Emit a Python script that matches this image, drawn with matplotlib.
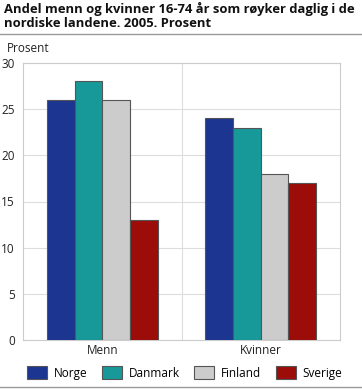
import matplotlib
matplotlib.use("Agg")
import matplotlib.pyplot as plt
import numpy as np
from matplotlib.patches import Patch
from matplotlib.lines import Line2D

categories = ["Menn", "Kvinner"]
countries = ["Norge", "Danmark", "Finland", "Sverige"]
values = {
    "Norge": [26, 24],
    "Danmark": [28, 23],
    "Finland": [26, 18],
    "Sverige": [13, 17],
}
colors = ["#1b3591", "#17999a", "#cccccc", "#9c0d0a"]
yticks = [0, 5, 10, 15, 20, 25, 30]

plt.rcParams['font.family'] = ['Open Sans', 'DejaVu Sans']

fig = plt.figure(figsize=(3.62, 3.89), dpi=100)
W, H = 362, 389
ax = fig.add_axes([23 / W, 1 - 340 / H, (340 - 23) / W, (340 - 63) / H])

x = np.arange(len(categories))
bw = 0.175
for i, (c, col) in enumerate(zip(countries, colors)):
    ax.bar(x + (i - 1.5) * bw, values[c], width=bw, color=col,
           edgecolor="#555555", linewidth=0.8, zorder=3)

ax.set_xlim(-0.5, 1.5)
ax.set_ylim(0, 30)
ax.set_yticks(yticks)
ax.set_yticklabels([str(t) for t in yticks], fontsize=8.5, color="#222222")
ax.set_xticks(x)
ax.set_xticklabels(categories, fontsize=8.5, color="#222222")
ax.tick_params(length=0, pad=3)
ax.tick_params(axis='y', pad=6)
ax.grid(axis='y', color="#dddddd", linewidth=0.8, zorder=0)
ax.axvline(0.5, color="#dddddd", linewidth=0.8, zorder=0)
for s in ax.spines.values():
    s.set_color("#cccccc")
    s.set_linewidth(0.8)

fig.text(7 / W, 1 - 48 / H, "Prosent", fontsize=8.5, color="#222222", va="center", ha="left")

fig.text(4 / W, 1 - 2 / H, "Andel menn og kvinner 16-74 år som røyker daglig i de\nnordiske landene. 2005. Prosent",
         fontsize=9.4, fontweight="bold", va="top", ha="left", color="#111111", linespacing=1.1)

fig.add_artist(Line2D([0, 1], [1 - 34 / H, 1 - 34 / H], color="#999999", linewidth=1))
fig.add_artist(Line2D([0, 1], [1 - 387 / H, 1 - 387 / H], color="#999999", linewidth=1))

handles = [Patch(facecolor=col, edgecolor="#555555", linewidth=0.8, label=c) for c, col in zip(countries, colors)]
fig.legend(handles=handles, loc="center", bbox_to_anchor=(0.51, 1 - 373 / H), ncol=4,
           frameon=False, fontsize=8.5, handlelength=1.7, handleheight=1.3,
           columnspacing=1.2, handletextpad=0.6)

fig.savefig("out.png", dpi=100)
